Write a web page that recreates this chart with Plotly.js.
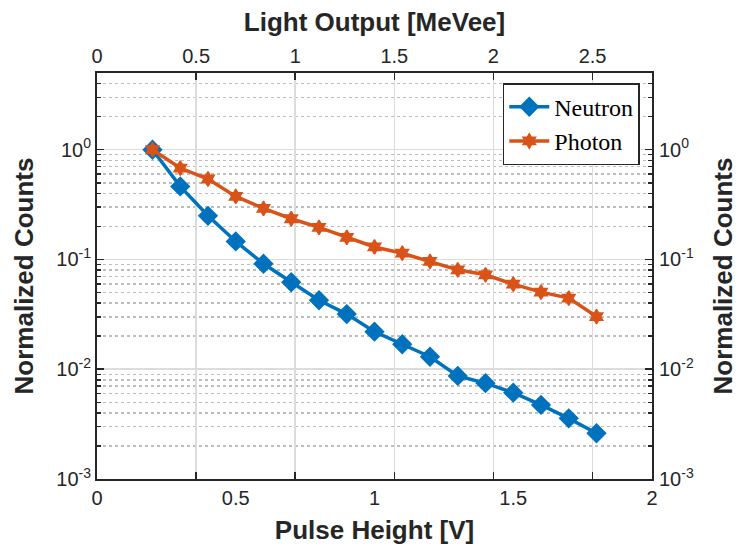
<!DOCTYPE html>
<html><head><meta charset="utf-8">
<script src="https://cdn.plot.ly/plotly-3.0.1.min.js"></script>
<style>html,body{margin:0;padding:0;background:#fff}#chart{width:738px;height:550px}</style>
</head><body><div id="chart"></div>
<script>
const pulseHeight = [0.2,0.3,0.4,0.5,0.6,0.7,0.8,0.9,1.0,1.1,1.2,1.3,1.4,1.5,1.6,1.7,1.8];
const neutronCounts = [1.0,0.463,0.25,0.146,0.0914,0.062,0.0425,0.0318,0.0220,0.0169,0.0130,0.00869,0.00746,0.00612,0.00473,0.00357,0.00261];
const photonCounts = [1.0,0.681,0.541,0.375,0.292,0.235,0.196,0.159,0.130,0.114,0.0959,0.0805,0.0725,0.0596,0.0504,0.0445,0.0302];
const seriesNames = ['Neutron','Photon'];
const pulseTicks = [0,0.5,1,1.5,2];
const pulseTickText = ['0','0.5','1','1.5','2'];
const lightTicks = [0,0.5,1,1.5,2,2.5];
const lightTickText = ['0','0.5','1','1.5','2','2.5'];
const countTickVals = [0.001,0.01,0.1,1];
const countTickText = ['10<sup>-3</sup>','10<sup>-2</sup>','10<sup>-1</sup>','10<sup>0</sup>'];
const minorMultipliers = [2,3,4,5,6,7,8,9];

const yTop = 5;
const minorVals = [];
countTickVals.forEach(d => minorMultipliers.forEach(m => { if (d*m <= yTop) minorVals.push(d*m); }));

const axCol = '#262626';
const titleFont = {family:'Liberation Sans, Arial, sans-serif', size:26, color:'#262626', weight:700};
const tickFont = {family:'Liberation Sans, Arial, sans-serif', size:20, color:'#262626'};
const yRange = [-3, Math.log10(yTop)];

const traces = [
  {x:pulseHeight, y:neutronCounts, name:seriesNames[0], type:'scatter', mode:'lines+markers',
   line:{color:'#0072BD', width:3.5}, marker:{symbol:'diamond', size:14, color:'#0072BD', line:{color:'#0072BD', width:1.5}}},
  {x:pulseHeight, y:photonCounts, name:seriesNames[1], type:'scatter', mode:'lines+markers',
   line:{color:'#D95319', width:3.5}, marker:{symbol:'hexagram', size:11, color:'#D95319', line:{color:'#D95319', width:1.5}}},
  {x:[], y:[], xaxis:'x2', yaxis:'y2', type:'scatter', showlegend:false, hoverinfo:'skip'}
];

const layout = {
  width:738, height:550,
  margin:{l:97, r:86, t:73, b:71, pad:0},
  paper_bgcolor:'#fff', plot_bgcolor:'#fff',
  font:{family:'Liberation Sans, Arial, sans-serif', color:axCol, size:20},
  showlegend:true,
  legend:{x:0.978, xanchor:'right', y:0.975, yanchor:'top', bgcolor:'#fff', bordercolor:axCol, borderwidth:1.5,
    font:{family:'Liberation Serif, Times New Roman, serif', size:24, color:'#000'}, itemwidth:40, tracegroupgap:0},
  xaxis:{range:[0,2], tickmode:'array', tickvals:pulseTicks, ticktext:pulseTickText, ticks:'', showgrid:false, zeroline:false,
    showline:true, linecolor:axCol, linewidth:2, tickfont:tickFont,
    title:{text:'Pulse Height [V]', font:titleFont, standoff:13}},
  xaxis2:{overlaying:'x', side:'top', range:[0,2.8], tickmode:'array', tickvals:lightTicks, ticktext:lightTickText,
    ticks:'inside', ticklen:7, tickwidth:1.5, tickcolor:axCol, mirror:'ticks', showline:true, linecolor:axCol, linewidth:2,
    showgrid:true, gridcolor:'#dcdcdc', gridwidth:1.5, zeroline:false, tickfont:tickFont,
    title:{text:'Light Output [MeVee]', font:titleFont, standoff:6}},
  yaxis:{type:'log', range:yRange, tickmode:'array', tickvals:countTickVals, ticktext:countTickText,
    ticks:'inside', ticklen:7, tickwidth:1.5, tickcolor:axCol, mirror:'ticks', showline:true, linecolor:axCol, linewidth:2,
    showgrid:true, gridcolor:'#dcdcdc', gridwidth:1.5, zeroline:false, tickfont:tickFont,
    minor:{tickmode:'array', tickvals:minorVals, ticks:'inside', ticklen:4, tickwidth:1.5, tickcolor:axCol,
      showgrid:true, gridcolor:'#bdbdbd', griddash:'dot', gridwidth:1.5},
    title:{text:'Normalized Counts', font:titleFont, standoff:15}},
  yaxis2:{type:'log', overlaying:'y', side:'right', range:yRange, tickmode:'array', tickvals:countTickVals, ticktext:countTickText,
    ticks:'', showgrid:false, showline:false, zeroline:false, tickfont:tickFont, ticklabelstandoff:6,
    title:{text:'Normalized Counts', font:titleFont, standoff:26}}
};

Plotly.newPlot('chart', traces, layout, {displayModeBar:false, staticPlot:true});
</script>
</body></html>
